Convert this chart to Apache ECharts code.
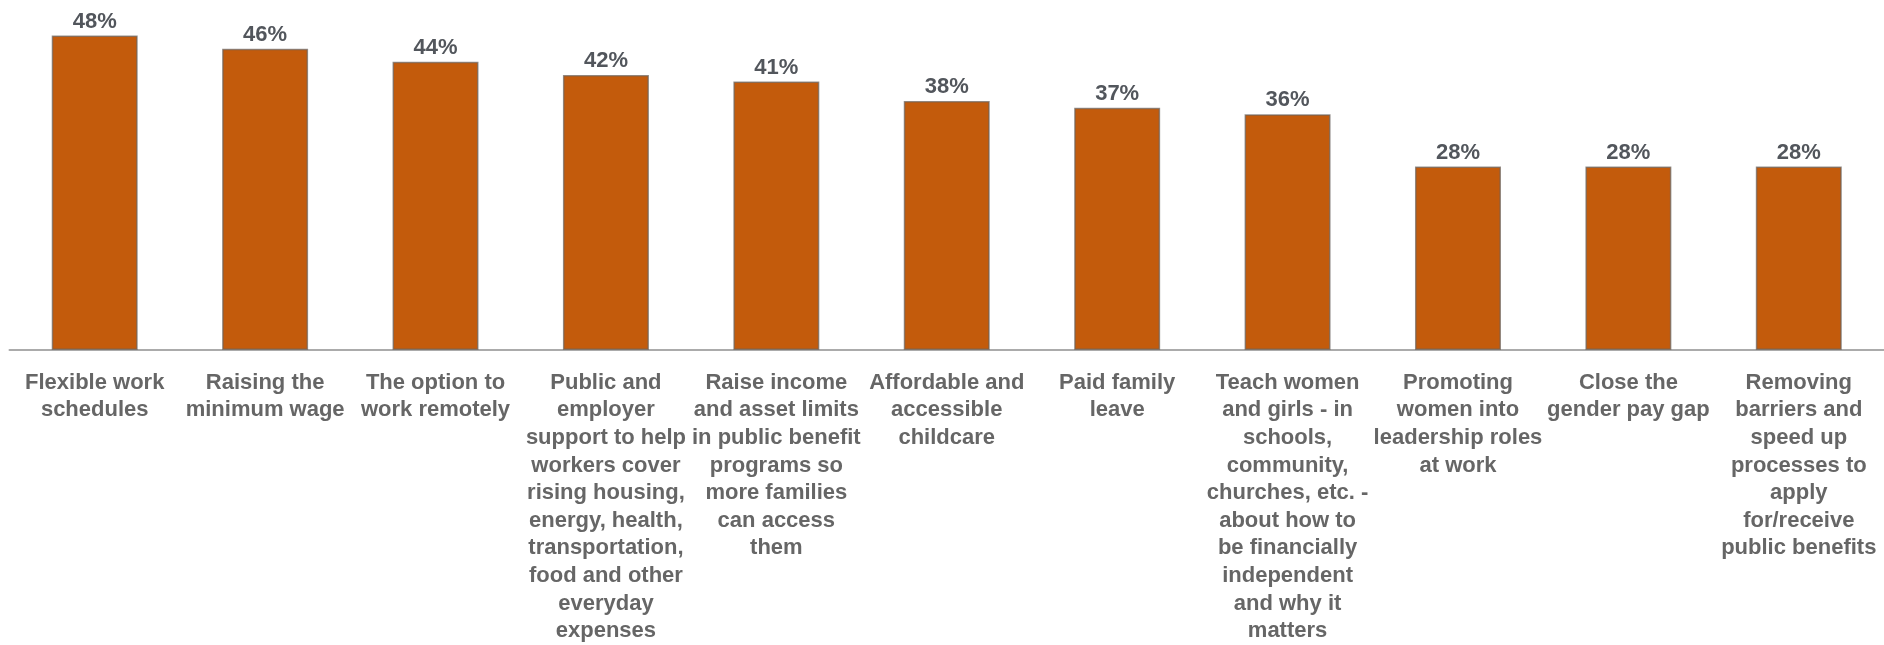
<!DOCTYPE html>
<html>
<head>
<meta charset="utf-8">
<script src="https://cdn.jsdelivr.net/npm/echarts@6/dist/echarts.min.js"></script>
<style>
  html, body { margin: 0; padding: 0; background: #ffffff; }
  #chart { width: 1884px; height: 645px; }
</style>
</head>
<body>
<div id="chart"></div>
<script>
// Policy options, with manual line breaks for the wrapped axis labels
const categories = [
  'Flexible work\nschedules',
  'Raising the\nminimum wage',
  'The option to\nwork remotely',
  'Public and\nemployer\nsupport to help\nworkers cover\nrising housing,\nenergy, health,\ntransportation,\nfood and other\neveryday\nexpenses',
  'Raise income\nand asset limits\nin public benefit\nprograms so\nmore families\ncan access\nthem',
  'Affordable and\naccessible\nchildcare',
  'Paid family\nleave',
  'Teach women\nand girls - in\nschools,\ncommunity,\nchurches, etc. -\nabout how to\nbe financially\nindependent\nand why it\nmatters',
  'Promoting\nwomen into\nleadership roles\nat work',
  'Close the\ngender pay gap',
  'Removing\nbarriers and\nspeed up\nprocesses to\napply\nfor/receive\npublic benefits'
];

// Share of respondents (%)
const shares = [48, 46, 44, 42, 41, 38, 37, 36, 28, 28, 28];

const chart = echarts.init(document.getElementById('chart'), null, { renderer: 'canvas' });

chart.setOption({
  animation: false,
  backgroundColor: '#ffffff',
  grid: {
    left: 9.5,
    top: 22.5,
    width: 1879,
    height: 331.5,
    containLabel: false
  },
  xAxis: {
    type: 'category',
    data: categories,
    axisLine: { show: true, lineStyle: { color: '#ababab', width: 2 } },
    axisTick: { show: false },
    axisLabel: {
      interval: 0,
      hideOverlap: false,
      margin: 19,
      color: '#666666',
      fontFamily: 'Liberation Sans, Arial, sans-serif',
      fontWeight: 'bold',
      fontSize: 22,
      lineHeight: 27.6,
      align: 'center'
    },
    splitLine: { show: false }
  },
  yAxis: {
    type: 'value',
    min: 0,
    max: 50,
    show: false,
    splitLine: { show: false }
  },
  series: [{
    type: 'bar',
    data: shares,
    barWidth: 86,
    itemStyle: {
      color: '#c35b0c',
      borderColor: 'rgba(105,100,95,0.7)',
      borderWidth: 1.5
    },
    label: {
      show: true,
      position: 'top',
      distance: 3,
      formatter: p => p.value + '%',
      color: '#52565c',
      fontFamily: 'Liberation Sans, Arial, sans-serif',
      fontWeight: 'bold',
      fontSize: 22
    }
  }]
});
</script>
</body>
</html>
